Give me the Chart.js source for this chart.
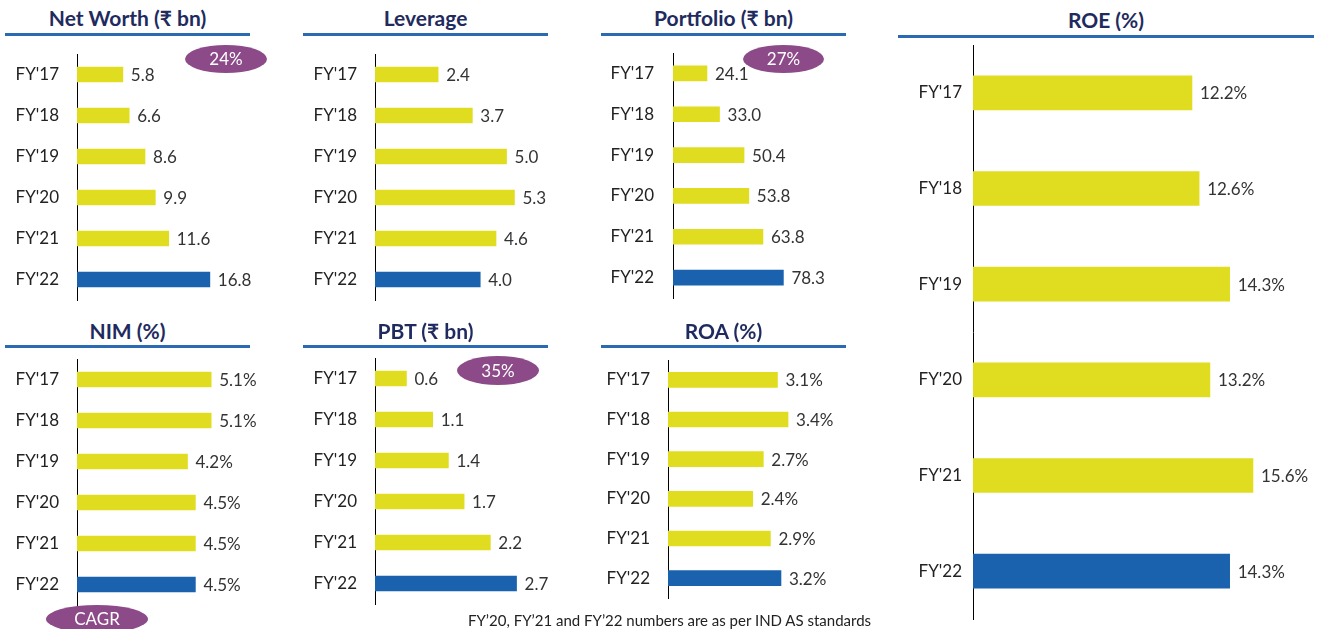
<!DOCTYPE html>
<html>
<head>
<meta charset="utf-8">
<script src="https://cdn.jsdelivr.net/npm/chart.js@4"></script>
<style>
  body { margin: 0; background: #fff; font-family: Lato, sans-serif; }
  #wrap { position: relative; width: 1325px; height: 629px; overflow: hidden; }
  canvas { position: absolute; }
  .title { position: absolute; text-align: center; font-weight: bold; font-size: 21px; color: #1f2b5e; height: 26px; line-height: 26px; }
  .rule { position: absolute; height: 3px; background: #2a6ab3; }
  .pill { position: absolute; border-radius: 50%; background: #8d4a89; color: #fff; font-size: 17px; text-align: center; }
  .note { position: absolute; font-size: 15px; color: #222; white-space: nowrap; }
</style>
</head>
<body>
<div id="wrap"></div>
<script>
// data
const categories = ["FY'17", "FY'18", "FY'19", "FY'20", "FY'21", "FY'22"];
const netWorth = [5.8, 6.6, 8.6, 9.9, 11.6, 16.8];
const leverage = [2.4, 3.7, 5.0, 5.3, 4.6, 4.0];
const portfolio = [24.1, 33.0, 50.4, 53.8, 63.8, 78.3];
const roe = [12.2, 12.6, 14.3, 13.2, 15.6, 14.3];
const nim = [5.1, 5.1, 4.2, 4.5, 4.5, 4.5];
const pbt = [0.6, 1.1, 1.4, 1.7, 2.2, 2.7];
const roa = [3.1, 3.4, 2.7, 2.4, 2.9, 3.2];
const cagrNetWorth = '24%';
const cagrPortfolio = '27%';
const cagrPbt = '35%';

const yellow = '#e0dd20';
const blue = '#1a62ad';

// panel layout: axis x, plot top/bottom, px per unit, axis max
const panels = [
  { title: 'Net Worth (₹ bn)', data: netWorth, suffix: '', left: 0, axis: 77, top: 53.5, bottom: 299.5, k: 7.9, max: 22, thick: 15, gap: 18, rule: [5, 250, 33], titleY: 5 },
  { title: 'Leverage', data: leverage, suffix: '', left: 300, axis: 375, top: 53.5, bottom: 299.5, k: 26.25, max: 6.5, thick: 15, gap: 18, rule: [303, 548, 33], titleY: 5 },
  { title: 'Portfolio (₹ bn)', data: portfolio, suffix: '', left: 595, axis: 673, top: 53, bottom: 298, k: 1.41, max: 122, thick: 15, gap: 19, rule: [601, 846, 33], titleY: 5 },
  { title: 'ROE (%)', data: roe, suffix: '%', left: 900, axis: 973, top: 45, bottom: 619, k: 17.95, max: 19, thick: 34, gap: 11, rule: [898, 1314, 35], titleY: 7 },
  { title: 'NIM (%)', data: nim, suffix: '%', left: 0, axis: 77, top: 358.5, bottom: 604.5, k: 26.3, max: 6.5, thick: 15, gap: 18, rule: [5, 250, 345], titleY: 318 },
  { title: 'PBT (₹ bn)', data: pbt, suffix: '', left: 300, axis: 375, top: 357.5, bottom: 603.5, k: 52.5, max: 3.3, thick: 15, gap: 18, rule: [303, 548, 345], titleY: 318 },
  { title: 'ROA (%)', data: roa, suffix: '%', left: 595, axis: 668, top: 360, bottom: 598, k: 35.3, max: 4.9, thick: 15, gap: 18, rule: [601, 846, 345], titleY: 318 }
];

const valueLabels = {
  id: 'valueLabels',
  afterDatasetsDraw(chart, args, opts) {
    const ctx = chart.ctx;
    const ds = chart.data.datasets[0];
    ctx.save();
    ctx.font = '17px Lato';
    ctx.fillStyle = '#333';
    ctx.textAlign = 'left';
    ctx.textBaseline = 'middle';
    chart.getDatasetMeta(0).data.forEach((bar, i) => {
      ctx.fillText(ds.data[i].toFixed(1) + opts.suffix, bar.x + 8, bar.y + 1);
    });
    ctx.restore();
  }
};

const wrap = document.getElementById('wrap');
const pad = 15;
const extra = 50; // room right of the plot for value labels

panels.forEach(p => {
  const t = document.createElement('div');
  t.className = 'title';
  t.style.left = p.rule[0] + 'px';
  t.style.width = (p.rule[1] - p.rule[0]) + 'px';
  t.style.top = p.titleY + 'px';
  t.textContent = p.title;
  wrap.appendChild(t);

  const r = document.createElement('div');
  r.className = 'rule';
  r.style.left = p.rule[0] + 'px';
  r.style.width = (p.rule[1] - p.rule[0]) + 'px';
  r.style.top = p.rule[2] + 'px';
  wrap.appendChild(r);

  const axisW = p.axis - p.left;
  const w = Math.round(axisW + p.max * p.k) + extra;
  const h = Math.round(p.bottom - p.top + pad * 2);
  const c = document.createElement('canvas');
  c.width = w;
  c.height = h;
  c.style.left = p.left + 'px';
  c.style.top = Math.round(p.top - pad) + 'px';
  wrap.appendChild(c);

  new Chart(c.getContext('2d'), {
    type: 'bar',
    data: {
      labels: categories,
      datasets: [{
        data: p.data,
        backgroundColor: p.data.map((v, i) => i === p.data.length - 1 ? blue : yellow),
        barThickness: p.thick
      }]
    },
    options: {
      indexAxis: 'y',
      responsive: false,
      animation: false,
      layout: { padding: { top: pad, bottom: pad, left: 0, right: extra } },
      plugins: {
        legend: { display: false },
        tooltip: { enabled: false },
        valueLabels: { suffix: p.suffix }
      },
      scales: {
        x: { display: false, min: 0, max: p.max },
        y: {
          afterFit: axis => {
            axis.width = axisW;
            axis.paddingTop = 0;
            axis.paddingBottom = 0;
          },
          grid: { color: 'transparent', drawTicks: false },
          border: { display: true, color: '#000', width: 1 },
          ticks: { color: '#222', font: { family: 'Lato', size: 17 }, padding: p.gap }
        }
      }
    },
    plugins: [valueLabels]
  });
});

// CAGR pills
[
  [cagrNetWorth, 185, 45, 82, 28],
  [cagrPortfolio, 743, 45, 81, 28],
  [cagrPbt, 457, 356, 82, 29],
  ['CAGR', 46, 605, 102, 28]
].forEach(([txt, x, y, w, h]) => {
  const d = document.createElement('div');
  d.className = 'pill';
  d.style.left = x + 'px';
  d.style.top = y + 'px';
  d.style.width = w + 'px';
  d.style.height = h + 'px';
  d.style.lineHeight = h + 'px';
  d.textContent = txt;
  wrap.appendChild(d);
});

const note = document.createElement('div');
note.className = 'note';
note.style.left = '468px';
note.style.top = '611px';
note.textContent = 'FY’20, FY’21 and FY’22 numbers are as per IND AS standards';
wrap.appendChild(note);
</script>
</body>
</html>
